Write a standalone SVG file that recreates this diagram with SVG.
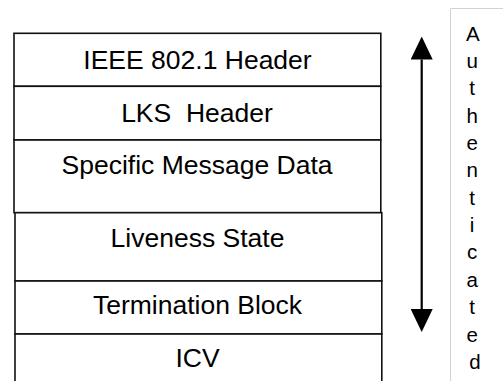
<svg xmlns="http://www.w3.org/2000/svg" width="503" height="381" viewBox="0 0 503 381">
  <defs>
    <marker id="head" viewBox="0 0 23 22" markerWidth="23" markerHeight="22" refX="0" refY="11" markerUnits="userSpaceOnUse" orient="auto-start-reverse">
      <path d="M0,0 L23,11 L0,22 z" fill="#000"/>
    </marker>
  </defs>
  <style>
    .field { fill: #fff; stroke: #111; stroke-width: 1.6; }
    .label { font-family: "Liberation Sans", Arial, sans-serif; font-size: 26.5px; fill: #000; text-anchor: middle; }
    .side { font-family: "Liberation Sans", Arial, sans-serif; font-size: 20.5px; fill: #000; text-anchor: middle; }
    .frame { fill: none; stroke: #d2d2d2; stroke-width: 1; }
    .arrow { fill: none; stroke: #000; stroke-width: 2.2; }
  </style>
  <rect width="503" height="381" fill="#fff"/>

  <!-- upper block: headers and message data -->
  <g id="ieee-header">
    <rect class="field" x="14" y="33.3" width="366.8" height="53"/>
    <text class="label" x="197.5" y="68.8">IEEE 802.1 Header</text>
  </g>
  <g id="lks-header">
    <rect class="field" x="14" y="86.3" width="366.8" height="53.7"/>
    <text class="label" x="197" y="121.5" xml:space="preserve">LKS  Header</text>
  </g>
  <g id="message-data">
    <rect class="field" x="14" y="140" width="366.8" height="72.7"/>
    <text class="label" x="197" y="173.5">Specific Message Data</text>
  </g>

  <!-- lower block: state, termination and check value -->
  <g id="liveness-state">
    <rect class="field" x="15" y="212.7" width="366.8" height="68.3"/>
    <text class="label" x="197.5" y="247">Liveness State</text>
  </g>
  <g id="termination-block">
    <rect class="field" x="15" y="281" width="366.8" height="53"/>
    <text class="label" x="197.5" y="314">Termination Block</text>
  </g>
  <g id="icv">
    <rect class="field" x="15" y="334" width="366.8" height="60"/>
    <text class="label" x="197.5" y="367">ICV</text>
  </g>

  <!-- coverage arrow -->
  <g id="connectors">
    <path class="arrow" d="M421.7,59.5 L421.7,309" marker-start="url(#head)" marker-end="url(#head)"/>
  </g>

  <!-- vertical caption -->
  <g id="authenticated">
    <path class="frame" d="M450.5,381 L450.5,8.5 L503,8.5"/>
    <text class="side">
      <tspan x="475" y="40.5">A</tspan>
      <tspan x="475" y="67.9">u</tspan>
      <tspan x="475" y="95.2">t</tspan>
      <tspan x="475" y="122.6">h</tspan>
      <tspan x="475" y="149.9">e</tspan>
      <tspan x="475" y="177.3">n</tspan>
      <tspan x="475" y="204.7">t</tspan>
      <tspan x="475" y="232">i</tspan>
      <tspan x="475" y="259.4">c</tspan>
      <tspan x="475" y="286.7">a</tspan>
      <tspan x="475" y="314.1">t</tspan>
      <tspan x="475" y="341.5">e</tspan>
      <tspan x="475" y="368.8">d</tspan>
    </text>
  </g>
</svg>
